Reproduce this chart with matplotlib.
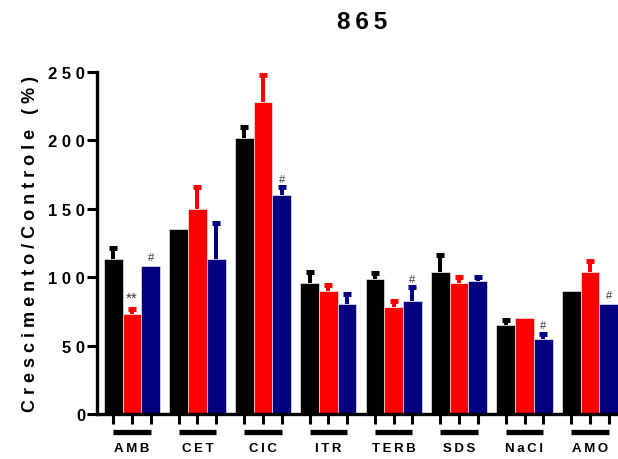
import matplotlib
matplotlib.use("Agg")
import matplotlib.pyplot as plt
import matplotlib.transforms as mtransforms
import numpy as np

plt.rcParams['font.family'] = ['Liberation Sans', 'DejaVu Sans']

# growth relative to control (%) for each treatment, three strains per group
groups = ["AMB", "CET", "CIC", "ITR", "TERB", "SDS", "NaCl", "AMO"]
black_vals = [113, 135, 202, 96, 99, 104, 65, 90]
black_err = [8, 0, 8, 8, 4, 12, 4, 0]
red_vals = [73, 150, 228, 90, 78.5, 96, 70, 104]
red_err = [4, 16, 20, 4, 4, 4, 0, 8]
blue_vals = [108.5, 113, 160, 80.5, 82.5, 97, 54.5, 80.5]
blue_err = [0, 27, 6, 7, 10, 3, 4, 0]
red_marks = ["**", "", "", "", "", "", "", ""]
blue_marks = ["#", "", "#", "", "#", "", "#", "#"]

series = [
    (black_vals, black_err, "#000000", None),
    (red_vals, red_err, "#ff0000", red_marks),
    (blue_vals, blue_err, "#000080", blue_marks),
]


def spaced(s, sep=" "):
    return sep.join(s)


W = 0.286
x = np.arange(len(groups))

fig = plt.figure(figsize=(6.18, 4.60), dpi=100)
ax = fig.add_axes([0.157, 0.098, 0.858, 0.743])

for k, (vals, errs, col, marks) in enumerate(series):
    xs = x + (k - 1) * W
    vals = np.array(vals, dtype=float)
    errs = np.array(errs, dtype=float)
    ax.bar(xs, vals, width=W, color=col, edgecolor="white", linewidth=0.4, zorder=2)
    # upper error bars only: thick stem plus a small block cap
    has = errs > 0
    ax.vlines(xs[has], vals[has], vals[has] + errs[has], color=col,
              linewidth=2.9, zorder=1)
    ax.plot(xs[has], vals[has] + errs[has], linestyle="none", marker="_",
            markersize=5.2, markeredgewidth=3.6, color=col, zorder=1)
    if marks:
        for xi, v, e, m in zip(xs, vals, errs, marks):
            if m:
                ax.annotate(m, (xi, v + e), xytext=(0, 2.5), textcoords="offset points",
                            ha="center", va="bottom",
                            fontsize=11 if m == "**" else 8, color="#333333")

ax.set_ylim(0, 250)
ax.set_xlim(-0.535, 7.57)
ax.set_yticks([0, 50, 100, 150, 200, 250])
ax.set_yticklabels([spaced(str(t)) for t in [0, 50, 100, 150, 200, 250]],
                   fontsize=12, fontweight="bold")
ax.set_xticks(np.concatenate([x - W, x, x + W]))
ax.set_xticklabels([])
ax.tick_params(axis="both", direction="out", length=7.5, width=2.2, pad=1)

for side in ("top", "right"):
    ax.spines[side].set_visible(False)
for side in ("left", "bottom"):
    ax.spines[side].set_linewidth(2.4)

# group bars and names under the axis
trans = mtransforms.blended_transform_factory(ax.transData, ax.transAxes)
for xi, name in zip(x, groups):
    ax.plot([xi - W, xi + W], [-0.052, -0.052], transform=trans, color="black",
            linewidth=3.8, solid_capstyle="butt", clip_on=False)
    ax.text(xi, -0.099, spaced(name, "\u2009"), transform=trans, ha="center",
            va="center", fontsize=9.5, fontweight="bold")

ax.set_ylabel(spaced("Crescimento/Controle") + "   " + spaced("(%)"),
              fontsize=13, fontweight="bold", labelpad=7)
fig.text(0.586, 0.952, spaced("865", "\u2009"), ha="center", va="center",
         fontsize=17.5, fontweight="bold")

fig.savefig("out.png", dpi=100)
